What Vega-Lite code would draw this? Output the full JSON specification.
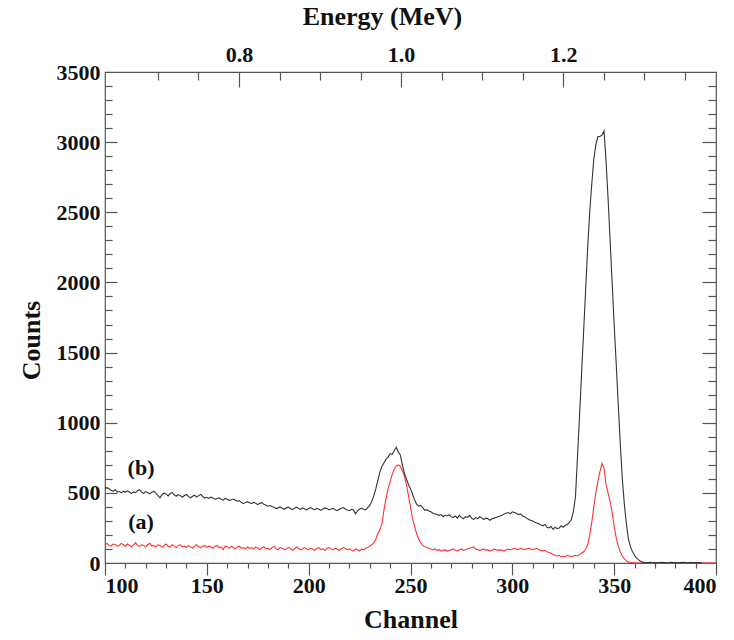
{
  "$schema": "https://vega.github.io/schema/vega-lite/v6.json",
  "width": 611,
  "height": 491,
  "autosize": {"type": "none"},
  "padding": {"left": 105, "top": 72, "right": 18, "bottom": 77},
  "background": "white",
  "config": {
    "view": {"stroke": "#555", "strokeWidth": 1.2},
    "axis": {
      "domain": false, "grid": false, "tickColor": "#555", "tickWidth": 1.2,
      "labelFont": "Liberation Serif", "labelFontSize": 22, "labelFontWeight": "bold", "labelColor": "#111",
      "titleFont": "Liberation Serif", "titleFontSize": 26, "titleFontWeight": "bold", "titleColor": "#111"
    }
  },
  "datasets": {
    "frame": [{"c": 100, "n": 0, "e": 0.8}],
    "labels": [{"c": 117.7, "n": 677, "t": "(b)"}, {"c": 117.7, "n": 292, "t": "(a)"}],
    "spec": [
{"c":100,"a":130,"b":532},{"c":101,"a":140,"b":537},{"c":102,"a":125,"b":529},{"c":103,"a":120,"b":518},{"c":104,"a":135,"b":510},
{"c":105,"a":130,"b":522},{"c":106,"a":120,"b":505},{"c":107,"a":125,"b":511},{"c":108,"a":140,"b":500},{"c":109,"a":130,"b":512},
{"c":110,"a":120,"b":504},{"c":111,"a":135,"b":514},{"c":112,"a":125,"b":506},{"c":113,"a":115,"b":495},{"c":114,"a":130,"b":507},
{"c":115,"a":145,"b":502},{"c":116,"a":125,"b":516},{"c":117,"a":120,"b":523},{"c":118,"a":130,"b":505},{"c":119,"a":125,"b":497},
{"c":120,"a":115,"b":509},{"c":121,"a":130,"b":501},{"c":122,"a":140,"b":493},{"c":123,"a":120,"b":505},{"c":124,"a":125,"b":512},
{"c":125,"a":115,"b":496},{"c":126,"a":130,"b":481},{"c":127,"a":125,"b":465},{"c":128,"a":110,"b":487},{"c":129,"a":125,"b":499},
{"c":130,"a":135,"b":491},{"c":131,"a":120,"b":478},{"c":132,"a":115,"b":495},{"c":133,"a":130,"b":502},{"c":134,"a":120,"b":486},
{"c":135,"a":110,"b":476},{"c":136,"a":125,"b":488},{"c":137,"a":130,"b":480},{"c":138,"a":115,"b":469},{"c":139,"a":120,"b":481},
{"c":140,"a":110,"b":488},{"c":141,"a":125,"b":473},{"c":142,"a":115,"b":465},{"c":143,"a":105,"b":476},{"c":144,"a":120,"b":483},
{"c":145,"a":130,"b":470},{"c":146,"a":115,"b":480},{"c":147,"a":110,"b":489},{"c":148,"a":120,"b":474},{"c":149,"a":125,"b":463},
{"c":150,"a":110,"b":468},{"c":151,"a":120,"b":460},{"c":152,"a":115,"b":469},{"c":153,"a":105,"b":464},{"c":154,"a":120,"b":453},
{"c":155,"a":125,"b":460},{"c":156,"a":110,"b":464},{"c":157,"a":115,"b":454},{"c":158,"a":95,"b":448},{"c":159,"a":120,"b":460},
{"c":160,"a":115,"b":455},{"c":161,"a":105,"b":447},{"c":162,"a":120,"b":451},{"c":163,"a":110,"b":456},{"c":164,"a":100,"b":448},
{"c":165,"a":115,"b":440},{"c":166,"a":120,"b":444},{"c":167,"a":105,"b":431},{"c":168,"a":110,"b":423},{"c":169,"a":100,"b":432},
{"c":170,"a":115,"b":437},{"c":171,"a":105,"b":429},{"c":172,"a":110,"b":423},{"c":173,"a":100,"b":433},{"c":174,"a":115,"b":425},
{"c":175,"a":105,"b":417},{"c":176,"a":95,"b":425},{"c":177,"a":110,"b":430},{"c":178,"a":115,"b":418},{"c":179,"a":100,"b":412},
{"c":180,"a":105,"b":405},{"c":181,"a":95,"b":410},{"c":182,"a":110,"b":403},{"c":183,"a":120,"b":398},{"c":184,"a":100,"b":388},
{"c":185,"a":95,"b":393},{"c":186,"a":110,"b":400},{"c":187,"a":105,"b":390},{"c":188,"a":95,"b":383},{"c":189,"a":100,"b":393},
{"c":190,"a":110,"b":398},{"c":191,"a":105,"b":388},{"c":192,"a":90,"b":380},{"c":193,"a":100,"b":390},{"c":194,"a":115,"b":398},
{"c":195,"a":105,"b":388},{"c":196,"a":95,"b":383},{"c":197,"a":100,"b":393},{"c":198,"a":110,"b":385},{"c":199,"a":100,"b":378},
{"c":200,"a":95,"b":388},{"c":201,"a":105,"b":395},{"c":202,"a":100,"b":385},{"c":203,"a":90,"b":380},{"c":204,"a":105,"b":390},
{"c":205,"a":110,"b":383},{"c":206,"a":95,"b":375},{"c":207,"a":100,"b":385},{"c":208,"a":90,"b":393},{"c":209,"a":105,"b":388},
{"c":210,"a":110,"b":378},{"c":211,"a":100,"b":385},{"c":212,"a":95,"b":390},{"c":213,"a":105,"b":380},{"c":214,"a":100,"b":373},
{"c":215,"a":90,"b":383},{"c":216,"a":100,"b":390},{"c":217,"a":110,"b":395},{"c":218,"a":105,"b":385},{"c":219,"a":95,"b":378},
{"c":220,"a":100,"b":373},{"c":221,"a":90,"b":383},{"c":222,"a":85,"b":378},{"c":223,"a":100,"b":350},{"c":224,"a":95,"b":372},
{"c":225,"a":85,"b":385},{"c":226,"a":100,"b":390},{"c":227,"a":95,"b":383},{"c":228,"a":105,"b":378},{"c":229,"a":110,"b":395},
{"c":230,"a":120,"b":410},{"c":231,"a":130,"b":440},{"c":232,"a":145,"b":480},{"c":233,"a":170,"b":530},{"c":234,"a":210,"b":590},
{"c":235,"a":240,"b":650},{"c":236,"a":280,"b":690},{"c":237,"a":380,"b":715},{"c":238,"a":460,"b":740},{"c":239,"a":530,"b":755},
{"c":240,"a":580,"b":780},{"c":241,"a":630,"b":775},{"c":242,"a":670,"b":800},{"c":243,"a":690,"b":825},{"c":244,"a":700,"b":790},
{"c":245,"a":690,"b":770},{"c":246,"a":660,"b":700},{"c":247,"a":620,"b":640},{"c":248,"a":560,"b":600},{"c":249,"a":480,"b":560},
{"c":250,"a":400,"b":530},{"c":251,"a":320,"b":490},{"c":252,"a":260,"b":450},{"c":253,"a":210,"b":420},{"c":254,"a":170,"b":405},
{"c":255,"a":145,"b":410},{"c":256,"a":125,"b":395},{"c":257,"a":115,"b":375},{"c":258,"a":110,"b":380},{"c":259,"a":105,"b":370},
{"c":260,"a":100,"b":365},{"c":261,"a":95,"b":355},{"c":262,"a":100,"b":350},{"c":263,"a":90,"b":345},{"c":264,"a":95,"b":340},
{"c":265,"a":85,"b":345},{"c":266,"a":90,"b":330},{"c":267,"a":95,"b":340},{"c":268,"a":85,"b":335},{"c":269,"a":90,"b":345},
{"c":270,"a":95,"b":330},{"c":271,"a":100,"b":325},{"c":272,"a":90,"b":335},{"c":273,"a":85,"b":320},{"c":274,"a":95,"b":340},
{"c":275,"a":100,"b":325},{"c":276,"a":90,"b":315},{"c":277,"a":95,"b":330},{"c":278,"a":100,"b":325},{"c":279,"a":105,"b":340},
{"c":280,"a":110,"b":320},{"c":281,"a":115,"b":310},{"c":282,"a":100,"b":325},{"c":283,"a":95,"b":315},{"c":284,"a":90,"b":330},
{"c":285,"a":95,"b":320},{"c":286,"a":100,"b":310},{"c":287,"a":90,"b":320},{"c":288,"a":95,"b":315},{"c":289,"a":85,"b":305},
{"c":290,"a":90,"b":315},{"c":291,"a":100,"b":320},{"c":292,"a":95,"b":325},{"c":293,"a":90,"b":330},{"c":294,"a":95,"b":335},
{"c":295,"a":90,"b":340},{"c":296,"a":85,"b":350},{"c":297,"a":95,"b":355},{"c":298,"a":100,"b":360},{"c":299,"a":95,"b":350},
{"c":300,"a":100,"b":365},{"c":301,"a":105,"b":360},{"c":302,"a":100,"b":355},{"c":303,"a":95,"b":345},{"c":304,"a":105,"b":350},
{"c":305,"a":100,"b":335},{"c":306,"a":95,"b":330},{"c":307,"a":100,"b":320},{"c":308,"a":105,"b":310},{"c":309,"a":100,"b":305},
{"c":310,"a":95,"b":300},{"c":311,"a":100,"b":290},{"c":312,"a":105,"b":285},{"c":313,"a":95,"b":280},{"c":314,"a":90,"b":270},
{"c":315,"a":85,"b":265},{"c":316,"a":90,"b":275},{"c":317,"a":80,"b":255},{"c":318,"a":75,"b":250},{"c":319,"a":70,"b":260},
{"c":320,"a":60,"b":240},{"c":321,"a":55,"b":255},{"c":322,"a":50,"b":245},{"c":323,"a":55,"b":250},{"c":324,"a":45,"b":265},
{"c":325,"a":50,"b":255},{"c":326,"a":45,"b":270},{"c":327,"a":55,"b":275},{"c":328,"a":50,"b":290},{"c":329,"a":45,"b":310},
{"c":330,"a":50,"b":370},{"c":331,"a":55,"b":470},{"c":332,"a":50,"b":760},{"c":333,"a":60,"b":1050},{"c":334,"a":70,"b":1350},
{"c":335,"a":80,"b":1650},{"c":336,"a":100,"b":1950},{"c":337,"a":130,"b":2250},{"c":338,"a":200,"b":2500},{"c":339,"a":290,"b":2700},
{"c":340,"a":400,"b":2880},{"c":341,"a":500,"b":2980},{"c":342,"a":580,"b":3040},{"c":343,"a":650,"b":3040},{"c":344,"a":710,"b":3050},
{"c":345,"a":680,"b":3080},{"c":346,"a":560,"b":2870},{"c":347,"a":500,"b":2600},{"c":348,"a":440,"b":2300},{"c":349,"a":360,"b":2000},
{"c":350,"a":260,"b":1700},{"c":351,"a":180,"b":1420},{"c":352,"a":120,"b":1130},{"c":353,"a":80,"b":850},{"c":354,"a":50,"b":600},
{"c":355,"a":30,"b":420},{"c":356,"a":15,"b":280},{"c":357,"a":8,"b":170},{"c":358,"a":3,"b":115},{"c":359,"a":2,"b":80},
{"c":360,"a":1,"b":55},{"c":361,"a":0,"b":35},{"c":362,"a":2,"b":22},{"c":363,"a":1,"b":12},{"c":364,"a":0,"b":6},
{"c":365,"a":1,"b":3},{"c":366,"a":2,"b":4},{"c":367,"a":0,"b":3},{"c":368,"a":1,"b":5},{"c":369,"a":0,"b":2},
{"c":370,"a":1,"b":4},{"c":371,"a":2,"b":3},{"c":372,"a":0,"b":2},{"c":373,"a":1,"b":5},{"c":374,"a":0,"b":3},
{"c":375,"a":1,"b":4},{"c":376,"a":0,"b":2},{"c":377,"a":2,"b":3},{"c":378,"a":1,"b":5},{"c":379,"a":0,"b":4},
{"c":380,"a":1,"b":3},{"c":381,"a":0,"b":2},{"c":382,"a":1,"b":4},{"c":383,"a":2,"b":3},{"c":384,"a":0,"b":5},
{"c":385,"a":1,"b":3},{"c":386,"a":0,"b":2},{"c":387,"a":1,"b":4},{"c":388,"a":0,"b":3},{"c":389,"a":2,"b":2},
{"c":390,"a":1,"b":4},{"c":391,"a":0,"b":3},{"c":392,"a":1,"b":2},{"c":393,"a":0,"b":3},{"c":394,"a":2},
{"c":395,"a":1},{"c":396,"a":0},{"c":397,"a":1},{"c":398,"a":0},{"c":399,"a":1},{"c":400,"a":0}
    ]
  },
  "layer": [
    {
      "layer": [
        {
          "data": {"name": "spec"},
          "mark": {"type": "line", "color": "#ff3333", "strokeWidth": 1.1},
          "encoding": {
            "x": {"field": "c", "type": "quantitative",
                  "scale": {"domain": [100, 400], "nice": false, "zero": false},
                  "axis": {"orient": "bottom", "values": [100, 150, 200, 250, 300, 350, 400], "format": "d", "tickSize": 12, "labelPadding": 0, "title": "Channel", "titlePadding": 10}},
            "y": {"field": "a", "type": "quantitative",
                  "scale": {"domain": [0, 3500], "nice": false},
                  "axis": {"orient": "left", "values": [0, 500, 1000, 1500, 2000, 2500, 3000, 3500], "format": "d", "ticks": false, "labelPadding": 5, "title": "Counts", "titlePadding": 12, "titleY": 268}}
          }
        },
        {
          "data": {"name": "spec"},
          "mark": {"type": "line", "color": "#333333", "strokeWidth": 1.1},
          "encoding": {
            "x": {"field": "c", "type": "quantitative", "axis": null},
            "y": {"field": "b", "type": "quantitative", "axis": null}
          }
        },
        {
          "data": {"name": "labels"},
          "mark": {"type": "text", "font": "Liberation Serif", "fontSize": 22, "fontWeight": "bold", "color": "#111", "align": "center", "baseline": "middle"},
          "encoding": {
            "x": {"field": "c", "type": "quantitative", "axis": null},
            "y": {"field": "n", "type": "quantitative", "axis": null},
            "text": {"field": "t", "type": "nominal"}
          }
        },
        {
          "data": {"name": "frame"},
          "mark": {"type": "point", "opacity": 0},
          "encoding": {
            "x": {"field": "c", "type": "quantitative",
                  "axis": {"orient": "bottom", "values": [110,120,130,140,160,170,180,190,210,220,230,240,260,270,280,290,310,320,330,340,360,370,380,390], "tickSize": 5, "labels": false, "title": null}}
          }
        },
        {
          "data": {"name": "frame"},
          "mark": {"type": "point", "opacity": 0},
          "encoding": {
            "y": {"field": "n", "type": "quantitative",
                  "axis": {"orient": "left", "values": [500, 1000, 1500, 2000, 2500, 3000], "tickSize": -12, "labels": false, "title": null}}
          }
        },
        {
          "data": {"name": "frame"},
          "mark": {"type": "point", "opacity": 0},
          "encoding": {
            "y": {"field": "n", "type": "quantitative",
                  "axis": {"orient": "left", "values": [100,200,300,400,600,700,800,900,1100,1200,1300,1400,1600,1700,1800,1900,2100,2200,2300,2400,2600,2700,2800,2900,3100,3200,3300,3400], "tickSize": -7, "labels": false, "title": null}}
          }
        },
        {
          "data": {"name": "frame"},
          "mark": {"type": "point", "opacity": 0},
          "encoding": {
            "y": {"field": "n", "type": "quantitative",
                  "axis": {"orient": "right", "values": [500, 1000, 1500, 2000, 2500, 3000], "tickSize": -14, "labels": false, "title": null}}
          }
        },
        {
          "data": {"name": "frame"},
          "mark": {"type": "point", "opacity": 0},
          "encoding": {
            "y": {"field": "n", "type": "quantitative",
                  "axis": {"orient": "right", "values": [100,200,300,400,600,700,800,900,1100,1200,1300,1400,1600,1700,1800,1900,2100,2200,2300,2400,2600,2700,2800,2900,3100,3200,3300,3400], "tickSize": -8, "labels": false, "title": null}}
          }
        }
      ],
      "resolve": {"axis": {"x": "independent", "y": "independent"}}
    },
    {
      "data": {"name": "frame"},
      "layer": [
        {
          "mark": {"type": "point", "opacity": 0},
          "encoding": {
            "x": {"field": "e", "type": "quantitative",
                  "scale": {"domain": [0.6347, 1.3885], "nice": false, "zero": false},
                  "axis": {"orient": "top", "values": [0.8, 1.0, 1.2], "format": ".1f", "ticks": false, "labelPadding": 6, "title": "Energy (MeV)", "titlePadding": 14, "titleX": 277}}
          }
        },
        {
          "mark": {"type": "point", "opacity": 0},
          "encoding": {
            "x": {"field": "e", "type": "quantitative",
                  "axis": {"orient": "top", "values": [0.8, 1.0, 1.2], "tickSize": -15, "labels": false, "title": null}}
          }
        },
        {
          "mark": {"type": "point", "opacity": 0},
          "encoding": {
            "x": {"field": "e", "type": "quantitative",
                  "axis": {"orient": "top", "values": [0.7, 0.75, 0.85, 0.9, 0.95, 1.05, 1.1, 1.15, 1.25, 1.3, 1.35], "tickSize": -8, "labels": false, "title": null}}
          }
        }
      ],
      "resolve": {"axis": {"x": "independent"}}
    }
  ],
  "resolve": {"scale": {"x": "independent"}}
}
